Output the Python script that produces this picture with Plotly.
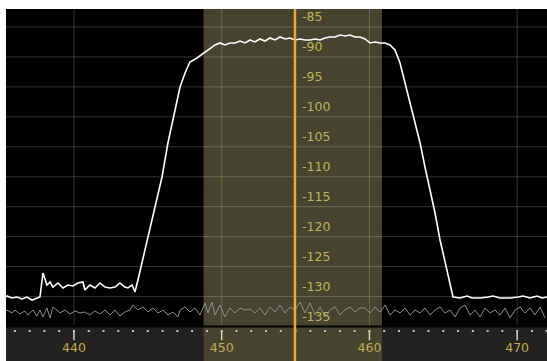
import plotly.graph_objects as go

# ---- data ----
# signal trace (frequency MHz, level dB)
signal_points = [
    (435.40, -130.08), (435.46, -129.91), (435.80, -130.24), (436.14, -130.08), (436.48, -130.41),
    (436.82, -130.08), (437.16, -130.58), (437.49, -130.24), (437.70, -130.08), (437.90, -126.07),
    (438.17, -128.07), (438.38, -127.57), (438.58, -128.41), (438.92, -127.74), (439.26, -128.57),
    (439.59, -128.07), (439.93, -128.24), (440.27, -127.74), (440.61, -127.57), (440.74, -128.91),
    (441.08, -128.07), (441.42, -128.57), (441.76, -127.74), (442.10, -128.41), (442.44, -128.57),
    (442.78, -128.41), (443.11, -127.74), (443.45, -128.41), (443.66, -128.57), (443.93, -128.07),
    (444.13, -129.24), (444.33, -127.24), (444.60, -124.40), (445.01, -120.06), (445.48, -115.55),
    (445.96, -110.04), (446.36, -104.37), (446.84, -98.86), (447.18, -95.02), (447.52, -92.68),
    (447.85, -90.84), (448.33, -90.18), (448.87, -89.17), (449.21, -88.51), (449.55, -88.00),
    (449.88, -87.67), (450.22, -88.00), (450.56, -87.67), (450.90, -87.67), (451.24, -87.34),
    (451.58, -87.67), (451.92, -87.17), (452.25, -87.50), (452.59, -87.00), (452.93, -87.34),
    (453.27, -86.84), (453.61, -87.17), (453.95, -86.67), (454.29, -87.00), (454.62, -86.84),
    (454.96, -87.17), (455.30, -87.00), (455.64, -87.17), (455.98, -87.17), (456.32, -87.00),
    (456.66, -87.17), (456.99, -86.84), (457.33, -86.67), (457.67, -86.67), (458.01, -86.34),
    (458.35, -86.51), (458.69, -86.34), (459.03, -86.67), (459.36, -86.67), (459.70, -87.00),
    (460.04, -87.67), (460.38, -87.50), (460.72, -87.67), (461.06, -87.67), (461.39, -88.00),
    (461.73, -88.84), (462.07, -91.01), (462.41, -94.35), (462.75, -97.69), (463.09, -101.03),
    (463.43, -104.37), (463.76, -108.37), (464.10, -112.21), (464.44, -116.05), (464.78, -120.56),
    (465.12, -124.40), (465.46, -127.74), (465.66, -130.08), (466.13, -130.24), (466.61, -129.91),
    (466.95, -130.24), (467.49, -130.24), (468.03, -130.08), (468.37, -129.91), (468.84, -130.24),
    (469.52, -130.24), (470.06, -130.08), (470.40, -129.91), (470.87, -130.24), (471.35, -129.91),
    (471.69, -130.24), (472.02, -130.08),
]

# noise-floor (reference) trace
noise_points = [
    (435.40, -132.41), (435.46, -132.25), (435.80, -132.75), (436.01, -132.25), (436.34, -132.91),
    (436.68, -132.41), (436.89, -133.08), (437.22, -132.25), (437.49, -133.25), (437.70, -132.25),
    (437.90, -133.41), (438.17, -131.91), (438.38, -133.58), (438.58, -131.74), (438.85, -132.25),
    (439.05, -132.75), (439.39, -132.25), (439.73, -132.91), (440.07, -132.41), (440.41, -132.75),
    (440.74, -132.58), (441.08, -133.08), (441.42, -132.41), (441.76, -132.91), (442.10, -132.25),
    (442.44, -133.08), (442.78, -132.25), (443.11, -133.25), (443.45, -132.58), (443.79, -132.25),
    (443.99, -131.41), (444.33, -132.25), (444.67, -131.74), (445.01, -132.58), (445.35, -131.91),
    (445.69, -132.75), (446.03, -132.25), (446.36, -133.08), (446.70, -132.58), (447.04, -133.41),
    (447.18, -132.25), (447.52, -131.74), (447.85, -132.58), (448.19, -131.91), (448.53, -133.08),
    (448.87, -131.08), (449.07, -132.75), (449.34, -130.91), (449.55, -133.08), (449.88, -131.41),
    (450.22, -133.41), (450.56, -131.91), (450.90, -132.75), (451.24, -131.91), (451.58, -132.25),
    (451.92, -132.08), (452.25, -132.75), (452.59, -131.91), (452.93, -133.08), (453.27, -131.74),
    (453.61, -132.58), (453.95, -131.41), (454.29, -132.75), (454.62, -131.74), (454.96, -132.25),
    (455.30, -130.91), (455.64, -132.75), (455.98, -131.08), (456.32, -133.08), (456.66, -131.74),
    (456.99, -133.41), (457.33, -132.25), (457.67, -131.74), (458.01, -133.08), (458.35, -132.25),
    (458.69, -131.74), (459.03, -132.58), (459.36, -131.91), (459.70, -131.91), (460.04, -132.75),
    (460.38, -131.74), (460.72, -132.58), (461.06, -131.41), (461.39, -133.08), (461.73, -132.25),
    (462.07, -132.75), (462.41, -131.91), (462.75, -133.08), (463.09, -132.25), (463.43, -132.75),
    (463.76, -131.91), (464.10, -133.08), (464.44, -132.25), (464.78, -131.74), (465.12, -132.75),
    (465.46, -132.25), (465.80, -133.41), (466.13, -131.91), (466.47, -131.41), (466.81, -133.08),
    (467.15, -132.25), (467.49, -133.41), (467.83, -131.91), (468.17, -132.75), (468.50, -132.25),
    (468.84, -133.08), (469.18, -131.91), (469.52, -133.58), (469.86, -132.25), (470.20, -131.74),
    (470.53, -132.75), (470.87, -131.91), (471.21, -133.08), (471.55, -131.74), (471.89, -133.58),
]

x_major_ticks = [440, 450, 460, 470]
x_tick_labels = ["440", "450", "460", "470"]
x_minor_ticks = list(range(436, 473))
y_ticks = [-85, -90, -95, -100, -105, -110, -115, -120, -125, -130, -135]
y_tick_labels = ["-85", "-90", "-95", "-100", "-105", "-110", "-115", "-120", "-125", "-130", "-135"]

center_freq = 454.96
band_lo, band_hi = 448.77, 460.85

# ---- view geometry ----
X_MIN, X_MAX = 435.40, 472.02
Y_MIN, Y_MAX = -140.76, -82.0
Y_FLOOR = -135.0

sig_f = [p[0] for p in signal_points]
sig_db = [p[1] for p in signal_points]
noi_f = [p[0] for p in noise_points]
noi_db = [p[1] for p in noise_points]

FONT = "DejaVu Sans"
GRID = "rgba(255,255,220,0.20)"

shapes = []
# bottom scale strip
shapes.append(dict(type="rect", xref="x", yref="y", x0=X_MIN, x1=X_MAX, y0=Y_MIN, y1=Y_FLOOR,
                   fillcolor="#222222", line=dict(width=0), layer="below"))
# filter band
shapes.append(dict(type="rect", xref="x", yref="y", x0=band_lo, x1=band_hi, y0=Y_MIN, y1=Y_MAX,
                   fillcolor="#46442f", line=dict(width=0), layer="below"))
# horizontal grid
for v in y_ticks[:-1]:
    shapes.append(dict(type="line", xref="x", yref="y", x0=X_MIN, x1=X_MAX, y0=v, y1=v,
                       line=dict(color=GRID, width=1), layer="below"))
# vertical grid
for v in x_major_ticks:
    shapes.append(dict(type="line", xref="x", yref="y", x0=v, x1=v, y0=Y_FLOOR, y1=Y_MAX,
                       line=dict(color=GRID, width=1), layer="below"))
# separator line between plot and scale
shapes.append(dict(type="line", xref="x", yref="y", x0=X_MIN, x1=X_MAX, y0=Y_FLOOR, y1=Y_FLOOR,
                   line=dict(color="#000000", width=2), layer="below"))
# major ticks in scale strip
for v in x_major_ticks:
    shapes.append(dict(type="line", xref="x", yref="y", x0=v, x1=v, y0=-135.6, y1=-137.3,
                       line=dict(color="#d8d8d0", width=1.5), layer="below"))
# center frequency line
shapes.append(dict(type="line", xref="x", yref="y", x0=center_freq, x1=center_freq, y0=Y_MIN, y1=Y_MAX,
                   line=dict(color="#f0a830", width=2.5), layer="above"))

fig = go.Figure()
fig.add_trace(go.Scatter(x=noi_f, y=noi_db, mode="lines",
                         line=dict(color="#8e8e8e", width=1), hoverinfo="skip"))
fig.add_trace(go.Scatter(x=sig_f, y=sig_db, mode="lines",
                         line=dict(color="#ffffff", width=1.6), hoverinfo="skip"))
# minor tick dots
fig.add_trace(go.Scatter(x=x_minor_ticks, y=[-135.75] * len(x_minor_ticks), mode="markers",
                         marker=dict(symbol="square", size=2, color="#c8c8c8", line=dict(width=0)),
                         hoverinfo="skip"))
# x tick labels
fig.add_trace(go.Scatter(x=x_major_ticks, y=[-138.76] * len(x_major_ticks), mode="text",
                         text=x_tick_labels, textposition="middle center",
                         textfont=dict(family=FONT, size=12.5, color="#c2ac50"), hoverinfo="skip"))

annotations = []
for v, t in zip(y_ticks, y_tick_labels):
    annotations.append(dict(x=center_freq, y=v, xref="x", yref="y", text=t, showarrow=False,
                            xanchor="left", yanchor="middle", xshift=5, yshift=10,
                            font=dict(family=FONT, size=12.5, color="#bdb658")))

fig.update_layout(
    width=547, height=361,
    margin=dict(l=6, r=0, t=9, b=0),
    paper_bgcolor="#ffffff", plot_bgcolor="#000000",
    showlegend=False,
    shapes=shapes, annotations=annotations,
    xaxis=dict(range=[X_MIN, X_MAX], visible=False, showgrid=False, zeroline=False, fixedrange=True),
    yaxis=dict(range=[Y_MIN, Y_MAX], visible=False, showgrid=False, zeroline=False, fixedrange=True),
)

fig.write_html("out.html", config={"displayModeBar": False},
               post_script="document.body.style.margin='0px';document.body.style.overflow='hidden';")
